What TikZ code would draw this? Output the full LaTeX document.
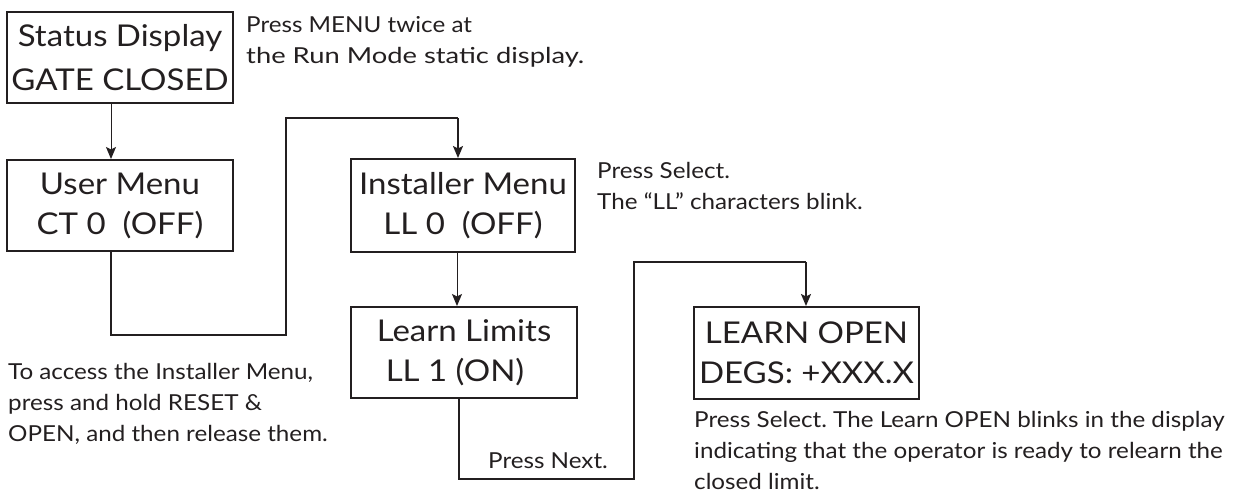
\documentclass[tikz,border=0pt]{standalone}
\usepackage{fontspec}
\setmainfont{Lato}[FakeStretch=1.1]
\usetikzlibrary{arrows.meta}
\definecolor{ink}{HTML}{231F20}
\frenchspacing
\tikzset{
  box/.style={draw=ink, line width=2pt, minimum width=226pt, minimum height=91pt,
    inner sep=0pt, align=center, text=ink,
    font=\fontsize{30}{40}\selectfont},
  note/.style={anchor=base west, inner sep=0pt, align=left, text=ink,
    font=\fontsize{22}{31}\selectfont},
  thick link/.style={draw=ink, line width=2pt, -{Stealth[length=12pt,width=10pt,inset=2.5pt]}},
  thin link/.style={draw=ink, line width=1pt, -{Stealth[length=12pt,width=10pt,inset=2.5pt]}},
  elbow/.style={draw=ink, line width=2pt}
}
\begin{document}
\begin{tikzpicture}[x=1pt,y=-1pt]
\useasboundingbox (0,0) rectangle (1235,498);
% boxes
\node[box, font=\fontsize{30}{44}\selectfont] (status) at (120,57.5) {Status Display\\GATE CLOSED};
\node[box] (user) at (120,205.5) {User Menu\\CT 0\ \ (OFF)};
\node[box, minimum width=224pt, minimum height=93pt] (inst) at (463,205.5) {Installer Menu\\LL 0\ \ (OFF)};
\node[box] (learn) at (464,352.5) {Learn Limits\\LL 1 (ON)\hspace*{18pt}};
\node[box, minimum width=225pt, minimum height=92pt] (open) at (806.5,353) {LEARN OPEN\\DEGS: +XXX.X};
% notes (anchored at the baseline of the last line)
\node[note] (n1) at (246,63) {Press MENU twice at\\\scalebox{1.13}[1]{the Run Mode static display.}};
\node[note] (n2) at (597,209) {Press Select.\\The “LL” characters blink.};
\node[note] (n3) at (8,441) {To access the Installer Menu,\\press and hold RESET \&\\OPEN, and then release them.};
\node[note] (n4) at (488,468) {Press Next.};
\node[note] (n5) at (694,489) {Press Select. The Learn OPEN blinks in the display\\indicating that the operator is ready to relearn the\\closed limit.};
% connectors
\coordinate (a1) at (111,335);
\coordinate (a2) at (286,335);
\coordinate (a3) at (286,118);
\coordinate (a4) at (458,118);
\coordinate (b1) at (459,479);
\coordinate (b2) at (634,479);
\coordinate (b3) at (634,262);
\coordinate (b4) at (806,262);
\draw[thin link] (status.south -| a1) -- (user.north -| a1);
\draw[elbow] (user.south -| a1) -- (a1) -- (a2) -- (a3) -- (a4);
\draw[thick link] (a4) -- (inst.north -| a4);
\draw[thin link] (inst.south -| 457,0) -- (learn.north -| 457,0);
\draw[elbow] (learn.south -| b1) -- (b1) -- (b2) -- (b3) -- (b4);
\draw[thick link] (b4) -- (open.north -| b4);
\end{tikzpicture}
\end{document}
